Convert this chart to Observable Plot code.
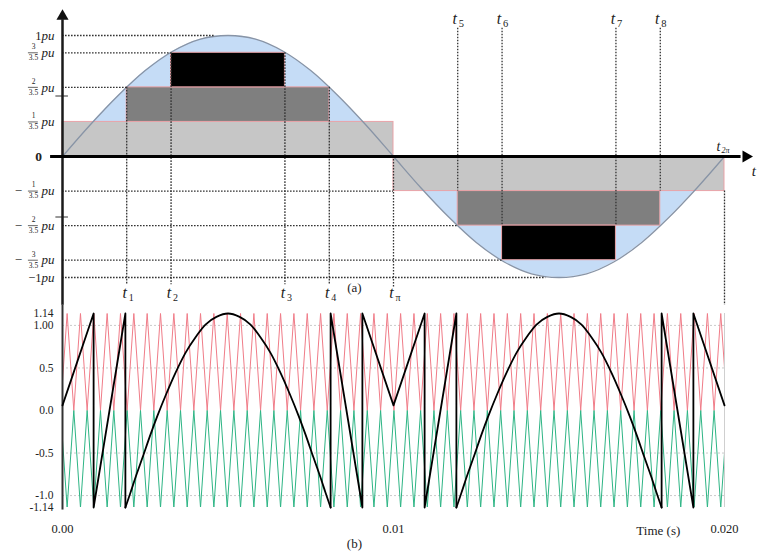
<!DOCTYPE html>
<html><head><meta charset="utf-8">
<script src="https://cdn.jsdelivr.net/npm/d3@7"></script>
<script src="https://cdn.jsdelivr.net/npm/@observablehq/plot@0.6"></script>
<style>
body{margin:0;background:#fff;}
#chart{width:759px;}
#chart svg{display:block;overflow:visible;}
#chart svg text{font-family:'Liberation Serif','DejaVu Serif',serif;}
</style></head><body><div id="chart"></div>
<script>
// ---------------- data ----------------
// (a) reference sine (pu) sampled every 1/24 period
const sineTime = [0, 0.000833, 0.001667, 0.0025, 0.003333, 0.004167, 0.005, 0.005833, 0.006667, 0.0075, 0.008333, 0.009167, 0.01,
  0.010833, 0.011667, 0.0125, 0.013333, 0.014167, 0.015, 0.015833, 0.016667, 0.0175, 0.018333, 0.019167, 0.02];
const sineValue = [0, 0.26, 0.5, 0.71, 0.87, 0.97, 1, 0.97, 0.87, 0.71, 0.5, 0.26, 0,
  -0.26, -0.5, -0.71, -0.87, -0.97, -1, -0.97, -0.87, -0.71, -0.5, -0.26, 0];

// switching instants t1..t8, tπ, t2π (s)
const switchNames = ["1", "2", "3", "4", "π", "5", "6", "7", "8", "2π"];
const switchTimes = [0.00194, 0.00328, 0.00672, 0.00806, 0.01, 0.01194, 0.01328, 0.01672, 0.01806, 0.02];

// staircase levels (pu)
const levelValues = [1, 3/3.5, 2/3.5, 1/3.5, 0, -1/3.5, -2/3.5, -3/3.5, -1];
const levelNumerators = ["1", "3", "2", "1", "0", "1", "2", "3", "1"];
const levelIsFraction = [false, true, true, true, false, true, true, true, false];

// staircase blocks
const blockStart = [0, 0.00194, 0.00328, 0.01, 0.01194, 0.01328];
const blockEnd = [0.01, 0.00806, 0.00672, 0.02, 0.01806, 0.01672];
const blockLow = [0, 1/3.5, 2/3.5, -1/3.5, -2/3.5, -3/3.5];
const blockHigh = [1/3.5, 2/3.5, 3/3.5, 0, -1/3.5, -2/3.5];
const blockShade = ["light", "mid", "dark", "light", "mid", "dark"];

// (b) carriers
const carrierPeriod = 0.000403;   // s (peak spacing)
const carrierFirstPeak = 0.00014; // s
const carrierPeak = 1.14;

// (b) modulating signal: straight ramps and two arcs
const rampTime = [0, 0.00094, 0.00094, 0.0019, 0.0019, null,
  0.0081, 0.0081, 0.00906, 0.00906, 0.01, 0.01094, 0.01094, 0.0119, 0.0119, null,
  0.0181, 0.0181, 0.01906, 0.01906, 0.02];
const rampValue = [0.06, 1.14, -1.14, 1.14, -1.14, null,
  -1.14, 1.14, -1.14, 1.14, 0.06, 1.14, -1.14, 1.14, -1.14, null,
  -1.14, 1.14, -1.14, 1.14, 0.06];
const arcTime = [0.0019, 0.00205, 0.00222, 0.00242, 0.00266, 0.00287, 0.00314, 0.00341, 0.00372, 0.00402, 0.00432, 0.00465, 0.005,
  0.00535, 0.00568, 0.00598, 0.00628, 0.00659, 0.00686, 0.00713, 0.00734, 0.00758, 0.00778, 0.00795, 0.0081,
  0.0119, 0.01205, 0.01222, 0.01242, 0.01266, 0.01287, 0.01314, 0.01341, 0.01372, 0.01402, 0.01432, 0.01465, 0.015,
  0.01535, 0.01568, 0.01598, 0.01628, 0.01659, 0.01686, 0.01713, 0.01734, 0.01758, 0.01778, 0.01795, 0.0181];
const arcValue = [-1.14, -0.97, -0.77, -0.55, -0.28, -0.06, 0.20, 0.44, 0.68, 0.86, 1.01, 1.10, 1.14,
  1.10, 1.01, 0.86, 0.68, 0.44, 0.20, -0.06, -0.28, -0.55, -0.77, -0.97, -1.14,
  -1.14, -0.97, -0.77, -0.55, -0.28, -0.06, 0.20, 0.44, 0.68, 0.86, 1.01, 1.10, 1.14,
  1.10, 1.01, 0.86, 0.68, 0.44, 0.20, -0.06, -0.28, -0.55, -0.77, -0.97, -1.14];
const arcId = arcTime.map(t => (t < 0.01 ? "first" : "second"));

const bTickValues = [1.14, 1.0, 0.5, 0.0, -0.5, -1.0, -1.14];
const bTickLabels = ["1.14", "1.00", "0.5", "0.0", "-0.5", "-1.0", "-1.14"];
const bTimeTicks = [0, 0.01, 0.02];
const bTimeLabels = ["0.00", "0.01", "0.020"];

// ---------------- tables ----------------
const sine = sineTime.map((t, i) => ({t, v: sineValue[i]}));
const shadeColor = {light: "#c6c6c6", mid: "#7f7f7f", dark: "#000000"};
const blocks = blockStart.map((s, i) => ({x1: s, x2: blockEnd[i], y1: blockLow[i], y2: blockHigh[i], fill: shadeColor[blockShade[i]]}));
const sw = Object.fromEntries(switchNames.map((n, i) => [n, switchTimes[i]]));
const levels = levelValues.map((v, i) => ({v, num: levelNumerators[i], frac: levelIsFraction[i]}));

const hGuides = [
  {v: 1, end: 0.0046}, {v: 3/3.5, end: sw["2"]}, {v: 2/3.5, end: sw["1"]},
  {v: -1/3.5, end: sw["π"]}, {v: -2/3.5, end: sw["5"]}, {v: -3/3.5, end: sw["6"]}, {v: -1, end: 0.0146}
];
const vGuides = [
  {t: sw["1"], y1: 2/3.5, y2: -1.06}, {t: sw["2"], y1: 3/3.5, y2: -1.06},
  {t: sw["3"], y1: 3/3.5, y2: -1.06}, {t: sw["4"], y1: 2/3.5, y2: -1.06},
  {t: sw["π"], y1: 0, y2: -1.08},
  {t: sw["5"], y1: 1.06, y2: -1/3.5}, {t: sw["6"], y1: 1.06, y2: -2/3.5},
  {t: sw["7"], y1: 1.06, y2: -2/3.5}, {t: sw["8"], y1: 1.06, y2: -1/3.5},
  {t: sw["2π"], y1: -1/3.5, y2: -1.23}
];
const bottomLabels = ["1", "2", "3", "4", "π"].map(n => ({t: sw[n], n}));
const topLabels = ["5", "6", "7", "8"].map(n => ({t: sw[n], n}));

const red = [];
for (let k = -1; carrierFirstPeak + k * carrierPeriod < 0.0206; k++) {
  const p = carrierFirstPeak + k * carrierPeriod;
  red.push({t: p - carrierPeriod / 2, v: 0}, {t: p, v: carrierPeak});
}
const green = red.map(d => ({t: d.t, v: -d.v}));
const ramps = rampTime.map((t, i) => ({t, v: rampValue[i]}));
const arcs = arcTime.map((t, i) => ({t, v: arcValue[i], id: arcId[i]}));

const serif = "Liberation Serif";
const ink = "#222";
const dotted = {stroke: "#333", strokeWidth: 1.3, strokeDasharray: "1.6,1.4"};
const T = {fontFamily: serif, fill: ink};

// ---------------- (a) ----------------
const panelA = Plot.plot({
  width: 759, height: 305,
  marginLeft: 62, marginRight: 35, marginTop: 35, marginBottom: 28,
  x: {domain: [0, 0.02], axis: null},
  y: {domain: [-1, 1], axis: null},
  style: {fontFamily: serif, background: "transparent", overflow: "visible"},
  marks: [
    Plot.areaY(sine, {x: "t", y: "v", fill: "#c5dcf6", curve: "catmull-rom"}),
    Plot.rect(blocks, {x1: "x1", x2: "x2", y1: "y1", y2: "y2", fill: "fill", stroke: "#e9a3a8", strokeWidth: 1}),
    Plot.line(sine, {x: "t", y: "v", stroke: "#8894a6", strokeWidth: 1.3, curve: "catmull-rom"}),
    Plot.ruleY(hGuides, {y: "v", x1: 0, x2: "end", ...dotted}),
    Plot.ruleX(vGuides, {x: "t", y1: "y1", y2: "y2", ...dotted}),
    Plot.ruleY([0.5, -0.5], {y: d => d, x1: -0.0002, x2: 0.00018, stroke: "#333", strokeWidth: 1}),
    Plot.ruleX([0], {y1: -1.23, y2: 1.13, stroke: "#1a1a1a", strokeWidth: 2.5}),
    Plot.dot([0], {x: 0, y: 1.16, symbol: "triangle", r: 4.5, fill: "#111", stroke: "none"}),
    Plot.ruleY([0], {x1: -0.00036, x2: 0.0205, stroke: "#000", strokeWidth: 3.2}),
    Plot.dot([0], {x: 0.02065, y: 0, symbol: "triangle", r: 4.5, rotate: 90, fill: "#000", stroke: "none"}),
    // level labels
    Plot.text(levels.filter(d => d.v !== 0), {x: 0, y: "v", text: () => "pu", textAnchor: "end", dx: -8, fontStyle: "italic", fontSize: 13, ...T}),
    Plot.text(levels.filter(d => !d.frac && d.v !== 0), {x: 0, y: "v", text: d => (d.v < 0 ? "\u22121" : "1"), textAnchor: "end", dx: -21, fontSize: 12.5, ...T}),
    Plot.text(levels.filter(d => d.frac), {x: 0, y: "v", text: "num", dx: -29, dy: -6, fontSize: 7.5, ...T}),
    Plot.text(levels.filter(d => d.frac), {x: 0, y: "v", text: () => "3.5", dx: -29, dy: 5, fontSize: 7.5, ...T}),
    Plot.ruleY(levels.filter(d => d.frac), {y: "v", x1: -0.00103, x2: -0.00073, stroke: ink, strokeWidth: 0.7}),
    Plot.text(levels.filter(d => d.frac && d.v < 0), {x: 0, y: "v", text: () => "\u2212", dx: -44, fontSize: 13, ...T}),
    Plot.text([0], {x: 0, y: 0, text: () => "0", dx: -24, fontSize: 13.5, fontWeight: "bold", ...T}),
    // switching labels
    Plot.text(bottomLabels, {x: "t", y: -1.13, text: () => "t", dx: -2, fontStyle: "italic", fontSize: 16, ...T}),
    Plot.text(bottomLabels, {x: "t", y: -1.13, text: "n", dx: 2, dy: 5, textAnchor: "start", fontSize: 10, ...T}),
    Plot.text(topLabels, {x: "t", y: 1.14, text: () => "t", dx: -3, fontStyle: "italic", fontSize: 16, ...T}),
    Plot.text(topLabels, {x: "t", y: 1.14, text: "n", dx: 1, dy: 5, textAnchor: "start", fontSize: 10.5, ...T}),
    Plot.text([0], {x: sw["2π"], y: 0.085, text: () => "t", dx: -6, fontStyle: "italic", fontSize: 14, ...T}),
    Plot.text([0], {x: sw["2π"], y: 0.085, text: () => "2π", dx: -3, dy: 4, textAnchor: "start", fontStyle: "italic", fontSize: 8, ...T}),
    Plot.text([0], {x: 0.02082, y: -0.12, text: () => "t", textAnchor: "start", fontStyle: "italic", fontSize: 15, ...T}),
    Plot.text([0], {x: 0.00882, y: -1.085, text: () => "(a)", fontSize: 13, ...T})
  ]
});

// ---------------- (b) ----------------
const panelB = Plot.plot({
  width: 759, height: 249,
  marginLeft: 62, marginRight: 35, marginTop: 8, marginBottom: 47,
  x: {domain: [0, 0.02], axis: null},
  y: {domain: [-1.14, 1.14], axis: null},
  style: {fontFamily: serif, background: "transparent", overflow: "visible"},
  marks: [
    Plot.ruleY([1.0, 0.5, -0.5, -1.0], {y: d => d, x1: 0, x2: 0.02, stroke: "#bdbdbd", strokeWidth: 0.8, strokeDasharray: "2,2"}),
    Plot.ruleX([0.02], {y1: -1.14, y2: 1.14, stroke: "#cfcfcf", strokeWidth: 1}),
    Plot.line(red, {x: "t", y: "v", stroke: "#f07c88", strokeWidth: 1, clip: true}),
    Plot.line(green, {x: "t", y: "v", stroke: "#2eb585", strokeWidth: 1, clip: true}),
    Plot.ruleX([0], {y1: -1.17, y2: 1.24, stroke: "#333", strokeWidth: 2}),
    Plot.line(ramps, {x: "t", y: "v", stroke: "#000", strokeWidth: 1.8}),
    Plot.line(arcs, {x: "t", y: "v", z: "id", stroke: "#000", strokeWidth: 1.8, curve: "catmull-rom"}),
    Plot.text(bTickValues, {x: 0, y: d => d, text: (d, i) => bTickLabels[i], textAnchor: "end", dx: -9, fontSize: 11.5, lineHeight: 1, ...T}),
    Plot.text(bTimeTicks, {x: d => d, y: -1.14, text: (d, i) => bTimeLabels[i], dy: 21, fontSize: 12.5, ...T}),
    Plot.text([0], {x: 0.018, y: -1.14, text: () => "Time (s)", dy: 23, fontSize: 13, ...T}),
    Plot.text([0], {x: 0.00882, y: -1.14, text: () => "(b)", dy: 36, fontSize: 13, ...T})
  ]
});

const chart = document.getElementById("chart");
chart.appendChild(panelA);
chart.appendChild(panelB);
</script>
</body></html>
